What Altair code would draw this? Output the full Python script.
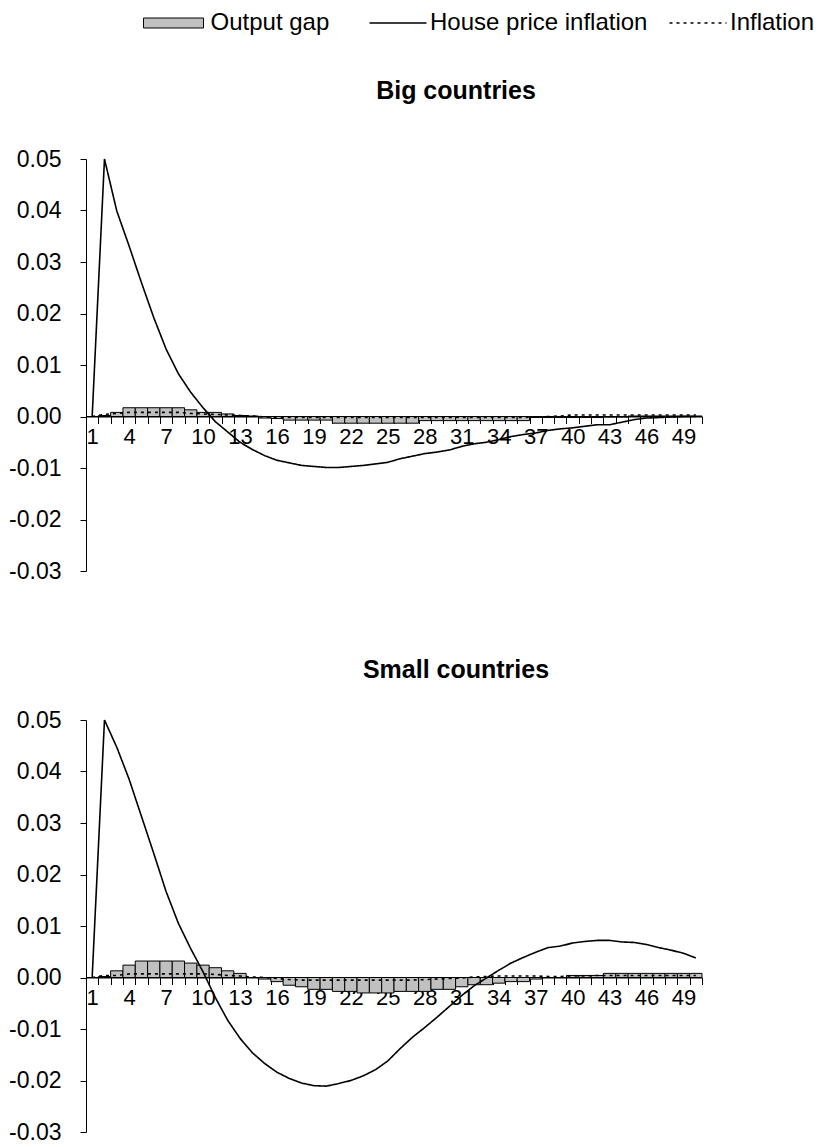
import altair as alt
import pandas as pd

FONT = "Liberation Sans"

periods = list(range(1, 51))
series_names = ["Output gap", "House price inflation", "Inflation"]
panel_titles = ["Big countries", "Small countries"]
y_ticks = [-0.03, -0.02, -0.01, 0.0, 0.01, 0.02, 0.03, 0.04, 0.05]

big_output_gap = [0.0000, 0.0002, 0.0008, 0.0017, 0.0017, 0.0017, 0.0017, 0.0017, 0.0013, 0.0008,
                  0.0008, 0.0005, 0.0002, 0.0001, -0.0003, -0.0004, -0.0007, -0.0007, -0.0007, -0.0007,
                  -0.0013, -0.0013, -0.0013, -0.0013, -0.0013, -0.0013, -0.0013, -0.0008, -0.0008, -0.0008,
                  -0.0008, -0.0008, -0.0008, -0.0008, -0.0008, -0.0008, -0.0002, -0.0002, -0.0002, -0.0002,
                  -0.0002, -0.0002, -0.0001, -0.0001, 0.0001, 0.0001, 0.0001, 0.0001, 0.0001, 0.0001]
big_house_price = [0.0, 0.050, 0.0399, 0.0331, 0.0260, 0.0192, 0.0131, 0.0083, 0.0047, 0.0017,
                   -0.0010, -0.0030, -0.0050, -0.0064, -0.0076, -0.0085, -0.0090, -0.0095, -0.0097, -0.0099,
                   -0.0099, -0.0097, -0.0095, -0.0092, -0.0089, -0.0082, -0.0077, -0.0072, -0.0069, -0.0065,
                   -0.0058, -0.0053, -0.0050, -0.0045, -0.0039, -0.0035, -0.0032, -0.0027, -0.0024, -0.0022,
                   -0.0019, -0.0016, -0.0016, -0.0011, -0.0006, -0.0003, -0.0002, -0.0001, 0.0, 0.0]
big_inflation = [0.0000, 0.0004, 0.0006, 0.0008, 0.0008, 0.0008, 0.0008, 0.0008, 0.0006, 0.0005,
                 0.0004, 0.0003, 0.0002, 0.0001, -0.0001, -0.0002, -0.0002, -0.0002, -0.0002, -0.0002,
                 -0.0002, -0.0002, -0.0002, -0.0002, -0.0002, -0.0002, -0.0002, -0.0002, -0.0002, -0.0002,
                 -0.0002, -0.0002, -0.0002, -0.0002, -0.0002, -0.0002, -0.0001, 0.0000, 0.0001, 0.0003,
                 0.0003, 0.0003, 0.0003, 0.0003, 0.0003, 0.0003, 0.0003, 0.0003, 0.0003, 0.0003]

small_output_gap = [0.0000, 0.0002, 0.0013, 0.0024, 0.0032, 0.0032, 0.0032, 0.0032, 0.0028, 0.0024,
                    0.0019, 0.0013, 0.0008, 0.0000, -0.0003, -0.0008, -0.0015, -0.0018, -0.0023, -0.0023,
                    -0.0027, -0.0027, -0.0030, -0.0030, -0.0030, -0.0027, -0.0027, -0.0027, -0.0023, -0.0023,
                    -0.0018, -0.0014, -0.0014, -0.0011, -0.0008, -0.0008, -0.0003, 0.0000, 0.0000, 0.0004,
                    0.0004, 0.0004, 0.0008, 0.0008, 0.0008, 0.0008, 0.0008, 0.0008, 0.0008, 0.0008]
small_house_price = [0.0, 0.050, 0.0447, 0.0385, 0.0313, 0.0241, 0.0167, 0.0105, 0.0056, 0.0011,
                     -0.0039, -0.0083, -0.0118, -0.0146, -0.0167, -0.0184, -0.0196, -0.0205, -0.0210, -0.0211,
                     -0.0206, -0.0200, -0.0191, -0.0179, -0.0162, -0.0138, -0.0116, -0.0097, -0.0077, -0.0056,
                     -0.0035, -0.0016, -0.0001, 0.0014, 0.0028, 0.0039, 0.0049, 0.0058, 0.0061, 0.0067,
                     0.0070, 0.0072, 0.0072, 0.0069, 0.0068, 0.0064, 0.0058, 0.0053, 0.0047, 0.0038]
small_inflation = [0.0000, 0.0004, 0.0004, 0.0007, 0.0007, 0.0007, 0.0007, 0.0007, 0.0007, 0.0007,
                   0.0006, 0.0004, 0.0003, 0.0001, 0.0000, -0.0002, -0.0004, -0.0005, -0.0005, -0.0005,
                   -0.0005, -0.0005, -0.0005, -0.0005, -0.0005, -0.0005, -0.0005, -0.0004, -0.0003, -0.0002,
                   -0.0001, 0.0001, 0.0002, 0.0003, 0.0003, 0.0003, 0.0003, 0.0002, 0.0002, 0.0003,
                   0.0003, 0.0004, 0.0004, 0.0004, 0.0004, 0.0004, 0.0004, 0.0004, 0.0004, 0.0004]

W, H = 616, 412
Y_MIN, Y_MAX = -0.03, 0.05


def panel_frame(gap, house, infl):
    rows = []
    for t, g, h, i in zip(periods, gap, house, infl):
        rows.append({"t": t, "series": series_names[0], "value": g})
        rows.append({"t": t, "series": series_names[1], "value": h})
        rows.append({"t": t, "series": series_names[2], "value": i})
    return pd.DataFrame(rows)


def make_panel(df, title, title_offset):
    x_enc = alt.X(
        "t:O",
        scale=alt.Scale(domain=periods, paddingInner=0, paddingOuter=0),
        axis=alt.Axis(
            title=None,
            offset=-H * (0 - Y_MIN) / (Y_MAX - Y_MIN),
            tickBand="extent",
            labelExpr="(datum.value - 1) % 3 == 0 ? datum.label : ''",
            labelAngle=0,
            labelOverlap=False,
            labelFont=FONT,
            labelFontSize=22,
            labelColor="black",
            labelPadding=3,
            tickSize=7,
            tickColor="black",
            domainColor="black",
            grid=False,
        ),
    )
    y_enc = alt.Y(
        "value:Q",
        scale=alt.Scale(domain=[Y_MIN, Y_MAX], nice=False, zero=False),
        axis=alt.Axis(
            title=None,
            values=y_ticks,
            labelExpr="replace(format(datum.value, '.2f'), '\u2212', '-')",
            labelFont=FONT,
            labelFontSize=23,
            labelColor="black",
            labelPadding=19,
            tickSize=6,
            tickColor="black",
            domainColor="black",
            grid=False,
        ),
    )
    bars = alt.Chart(df).transform_filter(
        alt.datum.series == series_names[0]
    ).mark_bar(stroke="black", strokeWidth=1).encode(
        x=x_enc,
        y=y_enc,
        fill=alt.Fill(
            "series:N",
            scale=alt.Scale(domain=[series_names[0]], range=["#c0c0c0"]),
            legend=alt.Legend(
                orient="none", legendX=75.5, legendY=-148, title=None,
                symbolType="M-6,-1H6V1H-6Z", symbolSize=100,
                symbolStrokeColor="black", symbolStrokeWidth=1, symbolOpacity=1,
                labelFont=FONT, labelFontSize=24, labelColor="black", labelOffset=25,
                labelLimit=500,
            ),
        ),
    )
    lines = alt.Chart(df).transform_filter(
        alt.datum.series != series_names[0]
    ).mark_line(color="black", strokeWidth=1.6).encode(
        x=x_enc,
        y=y_enc,
        strokeDash=alt.StrokeDash(
            "series:N",
            scale=alt.Scale(domain=series_names[1:], range=[[1, 0], [3, 4]]),
            legend=alt.Legend(
                orient="none", legendX=300, legendY=-148, title=None, direction="horizontal",
                symbolType="M-5.7,0H5.7", symbolSize=100, symbolStrokeColor="black",
                symbolStrokeWidth=1.6, columnPadding=18,
                labelFont=FONT, labelFontSize=24, labelColor="black", labelOffset=20,
                labelLimit=500,
            ),
        ),
    )
    return alt.layer(bars, lines).properties(
        width=W, height=H,
        title=alt.TitleParams(title, font=FONT, fontSize=25, fontWeight="bold", color="black",
                              anchor="middle", frame="group", dx=62, offset=title_offset),
    )


top = make_panel(panel_frame(big_output_gap, big_house_price, big_inflation), panel_titles[0], 44)
bottom = make_panel(panel_frame(small_output_gap, small_house_price, small_inflation), panel_titles[1], 26)

chart = alt.vconcat(top, bottom, spacing=75).resolve_scale(
    fill="shared", strokeDash="shared"
).properties(
    padding={"top": 3, "left": 0, "right": 0, "bottom": 0}
).configure_view(strokeWidth=0)

chart.save("out.html", embed_options={"renderer": "svg", "actions": False})
